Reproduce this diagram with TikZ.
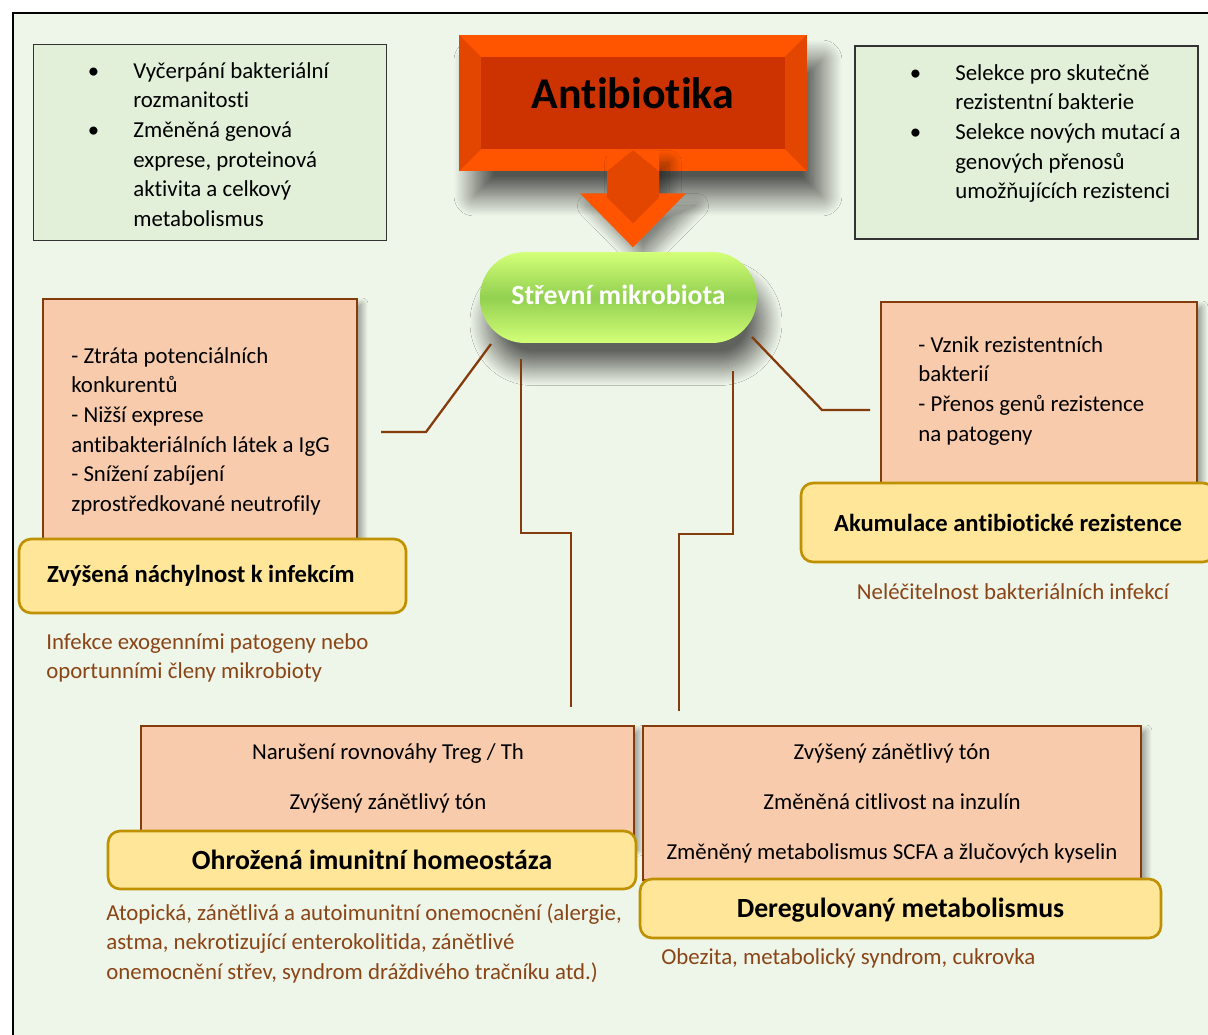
\documentclass[tikz,border=0pt]{standalone}
\usepackage{fontspec}
\setmainfont{Carlito}[Ligatures=NoCommon]
\usetikzlibrary{positioning,shadows.blur,calc}

\definecolor{pagebg}{HTML}{EEF5E9}
\definecolor{topfill}{HTML}{E2EFD9}
\definecolor{peachfill}{HTML}{F8CBAD}
\definecolor{peachline}{HTML}{843C0C}
\definecolor{yellowfill}{HTML}{FFE699}
\definecolor{yellowline}{HTML}{BF9000}
\definecolor{browntext}{HTML}{8A4517}
\definecolor{abcore}{HTML}{CC3300}
\definecolor{abedge}{HTML}{FF5500}
\definecolor{abside}{HTML}{E24600}
\definecolor{pillmid}{HTML}{92D050}
\definecolor{pilledge}{HTML}{D4FF78}

\newcommand{\bul}{\llap{\textbullet\hspace{0.68cm}}}

\begin{document}
\begin{tikzpicture}[x=0.02cm, y=-0.02cm,
  every node/.style={font=\fontsize{13}{16.9}\selectfont},
  greenbox/.style={rectangle, draw=black!80, line width=0.7pt, fill=topfill},
  peachbox/.style={rectangle, draw=peachline, line width=1.5pt, fill=peachfill,
    blur shadow={shadow xshift=0.1cm, shadow yshift=-0.1cm, shadow blur radius=0.12cm,
      shadow blur steps=20, shadow opacity=40}},
  effectbox/.style={rectangle, rounded corners=0.24cm, draw=yellowline, line width=1.5pt,
    fill=yellowfill, inner sep=0pt, font=\fontsize{14}{17}\selectfont\bfseries},
  bigeffect/.style={effectbox, font=\fontsize{15.8}{19}\selectfont\bfseries},
  bodytext/.style={align=left, inner sep=0pt, anchor=north west},
  midtext/.style={align=center, inner sep=0pt, anchor=north, font=\fontsize{13}{28.4}\selectfont},
  outcome/.style={bodytext, text=browntext},
  link/.style={draw=peachline, line width=1.3pt}
]
\useasboundingbox (0,0) rectangle (1208,1035);
\fill[white] (0,0) rectangle (1208,1035);
\draw[line width=1.2pt, fill=pagebg] (13,13) rectangle (1240,1060);

% top boxes
\node[greenbox, minimum width=7.06cm, minimum height=3.92cm] (losses) at (210,142.5) {};
\node[bodytext] (lossestext) at (133,62) {\bul Vyčerpání bakteriální\\ rozmanitosti\\ \bul Změněná genová\\ exprese, proteinová\\ aktivita a celkový\\ metabolismus};
\node[greenbox, minimum width=6.86cm, minimum height=3.86cm] (selection) at (1026.5,142.5) {};
\node[bodytext] (selectiontext) at (955,64) {\bul Selekce pro skutečně\\ rezistentní bakterie\\ \bul Selekce nových mutací a\\ genových přenosů\\ umožňujících rezistenci};

% antibiotics
\node[rectangle, fill=abedge, minimum width=6.96cm, minimum height=2.72cm, inner sep=0pt,
  blur shadow={shadow xshift=0.3cm, shadow yshift=-0.5cm, shadow blur radius=0.4cm,
    shadow blur steps=25, shadow opacity=65},
  path picture={
    \fill[abside] (path picture bounding box.north west) -- ([shift={(22,22)}]path picture bounding box.north west)
      -- ([shift={(22,-22)}]path picture bounding box.south west) -- (path picture bounding box.south west) -- cycle;
    \fill[abside] (path picture bounding box.north east) -- ([shift={(-22,22)}]path picture bounding box.north east)
      -- ([shift={(-22,-22)}]path picture bounding box.south east) -- (path picture bounding box.south east) -- cycle;
    \fill[abcore] ([shift={(22,22)}]path picture bounding box.north west) rectangle ([shift={(-22,-22)}]path picture bounding box.south east);
  },
  font=\fontsize{25}{30}\selectfont\bfseries, text depth=0.4cm] (antibiotika) at (633,103) {Antibiotika};

\fill[abedge, blur shadow={shadow xshift=0.2cm, shadow yshift=-0.25cm, shadow blur radius=0.25cm,
    shadow blur steps=20, shadow opacity=45}]
  ([shift={(-26,-21)}]antibiotika.south) -- ([shift={(26,-21)}]antibiotika.south)
  -- ([shift={(26,22)}]antibiotika.south) -- ([shift={(53,22)}]antibiotika.south)
  -- ([shift={(0,76)}]antibiotika.south) -- ([shift={(-53,22)}]antibiotika.south)
  -- ([shift={(-26,22)}]antibiotika.south) -- cycle;
\fill[abside] ([shift={(0,-21)}]antibiotika.south) -- ([shift={(26,0)}]antibiotika.south)
  -- ([shift={(26,26)}]antibiotika.south) -- ([shift={(0,52)}]antibiotika.south)
  -- ([shift={(-26,26)}]antibiotika.south) -- ([shift={(-26,0)}]antibiotika.south) -- cycle;

% microbiota
\node[rectangle, rounded corners=0.9cm, minimum width=5.54cm, minimum height=1.82cm,
  top color=pilledge, bottom color=pilledge, middle color=pillmid, text=white,
  font=\fontsize{15.8}{19}\selectfont\bfseries, text depth=0.1cm,
  blur shadow={shadow xshift=0.15cm, shadow yshift=-0.5cm, shadow blur radius=0.35cm,
    shadow blur steps=25, shadow opacity=60}]
  (gut) at (618.5,297.5) {Střevní mikrobiota};

% infections
\node[peachbox, minimum width=6.28cm, minimum height=4.82cm] (infbox) at (200,419.5) {};
\node[bodytext] (inftext) at (71,347) {- Ztráta potenciálních\\ konkurentů\\ - Nižší exprese\\ antibakteriálních látek a IgG\\ - Snížení zabíjení\\ zprostředkované neutrofily};
\node[effectbox, minimum width=7.74cm, minimum height=1.48cm] (infection) at (212.5,576) {\makebox[6.62cm][l]{Zvýšená náchylnost k infekcím}};
\node[outcome] (infout) at (46,633) {Infekce exogenními patogeny nebo\\ oportunními členy mikrobioty};

% resistance
\node[peachbox, minimum width=6.32cm, minimum height=3.96cm] (resbox) at (1039,401) {};
\node[bodytext] (restext) at (918,336) {- Vznik rezistentních\\ bakterií\\ - Přenos genů rezistence\\ na patogeny};
\node[effectbox, minimum width=8.28cm, minimum height=1.58cm] (resistance) at (1008,522.5) {Akumulace antibiotické rezistence};
\node[outcome, anchor=north] (resout) at (1013,583) {Neléčitelnost bakteriálních infekcí};

% immunity
\node[peachbox, minimum width=9.86cm, minimum height=2.38cm] (immbox) at (387.5,785.5) {};
\node[midtext] (immtext) at (388,743) {Narušení rovnováhy Treg / Th\\ Zvýšený zánětlivý tón};
\node[bigeffect, minimum width=10.56cm, minimum height=1.16cm] (immunity) at (372,860) {Ohrožená imunitní homeostáza};
\node[outcome] (immout) at (106,903) {Atopická, zánětlivá a autoimunitní onemocnění (alergie,\\ astma, nekrotizující enterokolitida, zánětlivé\\ onemocnění střev, syndrom dráždivého tračníku atd.)};

% metabolism
\node[peachbox, minimum width=9.96cm, minimum height=3.08cm] (metbox) at (892,803) {};
\node[midtext] (mettext) at (892,743) {Zvýšený zánětlivý tón\\ Změněná citlivost na inzulín\\ Změněný metabolismus SCFA a žlučových kyselin};
\node[bigeffect, minimum width=10.42cm, minimum height=1.18cm, text depth=0.05cm] (metabolism) at (900.5,908.5) {Deregulovaný metabolismus};
\node[outcome] (metout) at (661,948) {Obezita, metabolický syndrom, cukrovka};

% connectors
\coordinate (infstart) at (491,344);
\coordinate (infend) at (381,432);
\coordinate (immstart) at (521,359);
\coordinate (immend) at (571,707);
\coordinate (metstart) at (733,371);
\coordinate (metend) at (679,711);
\coordinate (resstart) at (752,337);
\coordinate (resend) at (870,410);
\draw[link] (infstart) -- (426,432) -- (infend);
\draw[link] (immstart) -- (521,533) -- (571,533) -- (immend);
\draw[link] (metstart) -- (733,534) -- (679,534) -- (metend);
\draw[link] (resstart) -- (822,410) -- (resend);

\end{tikzpicture}
\end{document}
